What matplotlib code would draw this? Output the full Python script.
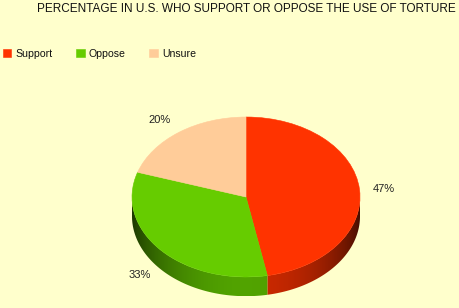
import numpy as np
import matplotlib
matplotlib.use("Agg")
import matplotlib.pyplot as plt
from matplotlib.patches import Polygon
from matplotlib.colors import to_rgb

# ---- data ----
title = "PERCENTAGE IN U.S. WHO SUPPORT OR OPPOSE THE USE OF TORTURE"
categories = ["Support", "Oppose", "Unsure"]
values = [47, 33, 20]
pct_labels = ["47%", "33%", "20%"]

# ---- style ----
colors = ["#FF3300", "#66CC00", "#FFCC99"]
bg = "#FFFFCC"
label_pos = [(1.21, 0.10), (-0.93, -0.975), (-0.754, 0.9625)]
depth = 0.24
font = "Liberation Sans"

fig = plt.figure(figsize=(4.6, 3.08), dpi=100, facecolor=bg)
ax = fig.add_axes([0.2622, 0.00974, 0.5452, 0.6623])
ax.set_facecolor("none")

wedges, texts = ax.pie(values, colors=colors, startangle=90, counterclock=False,
                       labels=pct_labels, labeldistance=1.2,
                       wedgeprops=dict(linewidth=0.4), textprops=dict(fontsize=8, family=font, color="#222222"),
                       radius=1, center=(0, 0))
for w, c in zip(wedges, colors):
    w.set_edgecolor(c)
    w.set_zorder(5)
for t, p in zip(texts, label_pos):
    t.set_position(p)
    t.set_ha("center")
    t.set_va("center")


def shade(theta):
    return 0.26 + 0.54 * np.maximum(0, np.cos(theta + np.pi / 2)) ** 1.5


# side of the 3D pie, drawn from wedge angles
for w, c in zip(wedges, colors):
    t1, t2 = np.deg2rad(w.theta1), np.deg2rad(w.theta2)
    for off in (-2 * np.pi, 0, 2 * np.pi):
        a = max(t1 + off, -np.pi)
        b = min(t2 + off, 0)
        if b <= a:
            continue
        th = np.linspace(a, b, 200)
        top = np.column_stack([np.cos(th), np.sin(th)])
        bot = np.column_stack([np.cos(th[::-1]), np.sin(th[::-1]) - depth])
        poly = Polygon(np.vstack([top, bot]), closed=True, transform=ax.transData)
        xs = np.linspace(-1, 1, 400)
        thx = -np.arccos(np.clip(xs, -1, 1))
        f = shade(thx)
        rgb = np.array(to_rgb(c))
        img = (f[:, None] * rgb[None, :])[None, :, :].repeat(2, axis=0)
        im = ax.imshow(img, extent=[-1, 1, -1 - depth, 0], origin="lower",
                       aspect="auto", interpolation="bilinear", zorder=2)
        im.set_clip_path(poly)

ax.set_aspect("auto")
ax.set_xlim(-1.1, 1.1)
ax.set_ylim(-1.35, 1.2)
ax.axis("off")

fig.text(0.991, 1 - 12 / 308, title, ha="right", va="baseline",
         fontsize=8.45, family=font, color="#111111")

leg = fig.legend(handles=wedges, labels=categories, loc="center left",
                 bbox_to_anchor=(3 / 460, 1 - 54 / 308), ncol=3, frameon=False,
                 prop=dict(family=font, size=7.6), handlelength=0.78, handleheight=0.78,
                 handletextpad=0.4, columnspacing=2.25, borderpad=0, borderaxespad=0)
for t in leg.get_texts():
    t.set_color("#111111")

fig.savefig("out.png", dpi=100, facecolor=bg)
